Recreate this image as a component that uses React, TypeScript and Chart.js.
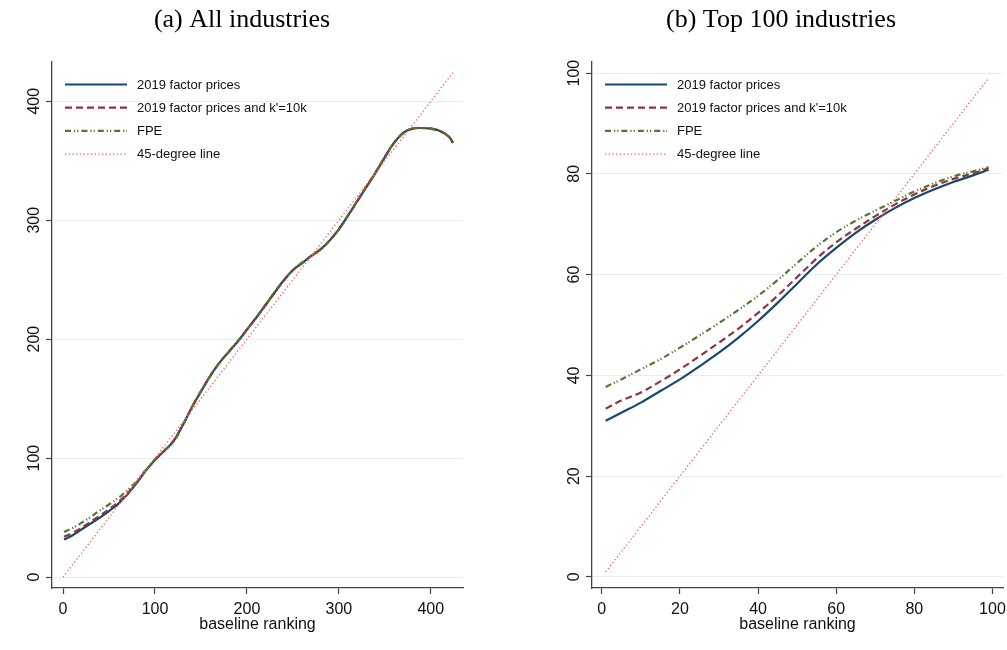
import React, { useEffect, useRef } from "react";
import { Chart, registerables } from "chart.js";
Chart.register(...registerables);

// ---------- data ----------
const seriesNames = ["2019 factor prices", "2019 factor prices and k'=10k", "FPE", "45-degree line"];
const panelTitles = ["(a) All industries", "(b) Top 100 industries"];
const xAxisTitle = "baseline ranking";

// (a) All industries
const leftRanks = [1, 10, 20, 30, 40, 50, 60, 70, 80, 90, 100, 110, 120, 130, 140, 150, 160, 170, 180, 190, 200, 210, 220, 230, 240, 250, 260, 270, 280, 290, 300, 310, 320, 330, 340, 350, 360, 370, 380, 390, 400, 410, 420, 424];
const leftFactor = [31.5, 35, 40, 45, 50, 55.5, 61.5, 69.5, 79, 89.5, 98.5, 106, 114, 127.5, 142.5, 156, 169, 180, 189, 198, 208, 218, 228.5, 239, 249.5, 258, 264, 270, 275.5, 283, 292.5, 304, 316, 328, 340, 353, 365, 373.5, 377, 377.5, 377, 375, 370, 365];
const leftK10 = [34, 37, 41.5, 46.5, 51.5, 57, 63, 70.5, 79.5, 89.5, 98.5, 106, 114.5, 127.5, 142.5, 156, 169, 180, 189.5, 198, 208, 218, 228.5, 239, 249, 258, 264, 270, 275.5, 283, 292.5, 304, 316, 328.5, 340.5, 353, 365, 373.5, 377, 377.5, 377, 375, 370, 365];
const leftFPE = [38, 41, 45.5, 50.5, 56, 61, 66.5, 73, 80.5, 90, 99, 106.5, 113.5, 127, 142.5, 156.5, 169, 180, 189, 198.5, 208, 218, 228, 239.5, 249.5, 258, 264.5, 270, 275, 283, 292, 304, 316.5, 328, 340, 353.5, 365, 373, 377, 377.5, 377, 375, 370, 365];
const leftDiag = [0, 424];
const leftXTicks = [0, 100, 200, 300, 400];
const leftYTicks = [0, 100, 200, 300, 400];

// (b) Top 100 industries
const rightRanks = [1, 5, 10, 15, 20, 25, 30, 35, 40, 45, 50, 55, 60, 65, 70, 75, 80, 85, 90, 95, 99];
const rightFactor = [31, 32.6, 34.6, 36.9, 39.2, 41.8, 44.5, 47.5, 50.8, 54.4, 58.2, 62, 65.3, 68.3, 70.9, 73.2, 75.2, 76.9, 78.4, 79.7, 80.8];
const rightK10 = [33.4, 35, 36.6, 38.8, 41.2, 43.8, 46.5, 49.3, 52.4, 55.8, 59.5, 63.2, 66.4, 69.1, 71.6, 73.9, 75.9, 77.6, 79, 80.1, 81.1];
const rightFPE = [37.7, 39.2, 41.2, 43.2, 45.5, 47.9, 50.4, 53, 55.8, 58.9, 62.3, 65.6, 68.4, 70.7, 72.7, 74.6, 76.5, 78.1, 79.5, 80.5, 81.3];
const rightDiag = [1, 99];
const rightXTicks = [0, 20, 40, 60, 80, 100];
const rightYTicks = [0, 20, 40, 60, 80, 100];

// ---------- styling ----------
const COLORS = ["#1a476f", "#90353b", "#55752f", "#ff5a5a"];
const DASHES: number[][] = [[], [7, 4], [6, 3, 1.2, 2, 1.2, 3], [1.3, 2.4]];
const WIDTHS = [2.2, 2.2, 2.2, 1.3];
const AXIS_COLOR = "#444444";
const GRID_COLOR = "#e6eef0";
const SANS = '"Liberation Sans", Arial, sans-serif';
const SERIF = '"Liberation Serif", "Times New Roman", serif';

type PanelSpec = {
  left: number;
  width: number;
  title: string;
  titleX: number;
  ranks: number[];
  factor: number[];
  k10: number[];
  fpe: number[];
  diag: number[];
  xTicks: number[];
  yTicks: number[];
  xMin: number;
  xMax: number;
  yMin: number;
  yMax: number;
  padLeft: number;
  padRight: number;
};

const HEIGHT = 650;

function buildDatasets(p: PanelSpec) {
  const series = [p.factor, p.k10, p.fpe];
  const ds: any[] = series.map((vals, i) => ({
    label: seriesNames[i],
    data: p.ranks.map((r, j) => ({ x: r, y: vals[j] })),
    borderColor: COLORS[i],
    borderWidth: WIDTHS[i],
    borderDash: DASHES[i],
    pointRadius: 0,
    tension: 0.35,
    fill: false,
    order: 3 - i,
  }));
  ds.push({
    label: seriesNames[3],
    data: p.diag.map((v) => ({ x: v, y: v })),
    borderColor: COLORS[3],
    borderWidth: WIDTHS[3],
    borderDash: DASHES[3],
    pointRadius: 0,
    tension: 0,
    fill: false,
    order: 0,
  });
  return ds;
}

function textPlugin(p: PanelSpec) {
  return {
    id: "stataText",
    afterDraw(chart: any) {
      const ctx = chart.ctx as CanvasRenderingContext2D;
      const ca = chart.chartArea;
      const xs = chart.scales.x;
      const ys = chart.scales.y;
      ctx.save();
      // title
      ctx.fillStyle = "#000";
      ctx.font = `26px ${SERIF}`;
      ctx.textAlign = "center";
      ctx.textBaseline = "alphabetic";
      ctx.fillText(p.title, p.titleX, 27);

      // y tick labels (rotated)
      ctx.fillStyle = "#111";
      ctx.font = `16px ${SANS}`;
      for (const v of p.yTicks) {
        const py = ys.getPixelForValue(v);
        ctx.save();
        ctx.translate(ca.left - 13, py);
        ctx.rotate(-Math.PI / 2);
        ctx.textAlign = "center";
        ctx.textBaseline = "alphabetic";
        ctx.fillText(String(v), 0, 0);
        ctx.restore();
      }
      // x tick labels
      ctx.textAlign = "center";
      ctx.textBaseline = "alphabetic";
      for (const v of p.xTicks) {
        ctx.fillText(String(v), xs.getPixelForValue(v), ca.bottom + 26);
      }
      // x axis title
      ctx.fillText(xAxisTitle, (ca.left + ca.right) / 2, ca.bottom + 41);

      // legend
      ctx.font = `13px ${SANS}`;
      ctx.textAlign = "left";
      ctx.textBaseline = "middle";
      const datasets = chart.data.datasets;
      for (let i = 0; i < datasets.length; i++) {
        const d = datasets[i];
        const y = ca.top + 22.5 + i * 23.2;
        ctx.save();
        ctx.strokeStyle = d.borderColor;
        ctx.lineWidth = d.borderWidth;
        ctx.setLineDash(d.borderDash || []);
        ctx.beginPath();
        ctx.moveTo(ca.left + 13, y);
        ctx.lineTo(ca.left + 75, y);
        ctx.stroke();
        ctx.restore();
        ctx.fillStyle = "#111";
        ctx.fillText(d.label, ca.left + 85, y + 0.5);
      }
      ctx.restore();
    },
  };
}

function Panel({ p }: { p: PanelSpec }) {
  const ref = useRef<HTMLCanvasElement>(null);
  useEffect(() => {
    const canvas = ref.current!;
    const chart = new Chart(canvas, {
      type: "line",
      data: { datasets: buildDatasets(p) },
      options: {
        animation: false,
        responsive: false,
        devicePixelRatio: 1,
        events: [],
        layout: {
          padding: { left: p.padLeft, right: p.padRight, top: 62, bottom: 42 },
        },
        plugins: {
          legend: { display: false },
          tooltip: { enabled: false },
          title: { display: false },
        },
        scales: {
          x: {
            type: "linear",
            min: p.xMin,
            max: p.xMax,
            afterBuildTicks: (s: any) => {
              s.ticks = p.xTicks.map((v) => ({ value: v }));
            },
            afterFit: (s: any) => {
              s.height = 20;
            },
            ticks: { display: false },
            grid: {
              display: true,
              drawOnChartArea: false,
              drawTicks: true,
              tickLength: 6,
              tickColor: AXIS_COLOR,
              tickWidth: 1.2,
            },
            border: { display: true, color: AXIS_COLOR, width: 1.3 },
          },
          y: {
            type: "linear",
            min: p.yMin,
            max: p.yMax,
            afterBuildTicks: (s: any) => {
              s.ticks = p.yTicks.map((v) => ({ value: v }));
            },
            afterFit: (s: any) => {
              s.width = 20;
            },
            ticks: { display: false },
            grid: {
              display: true,
              drawOnChartArea: true,
              color: GRID_COLOR,
              lineWidth: 1,
              drawTicks: true,
              tickLength: 6,
              tickColor: AXIS_COLOR,
              tickWidth: 1.2,
            },
            border: { display: true, color: AXIS_COLOR, width: 1.3 },
          },
        },
      } as any,
      plugins: [textPlugin(p)],
    });
    return () => chart.destroy();
  }, []);
  return (
    <canvas
      ref={ref}
      width={p.width}
      height={HEIGHT}
      style={{ position: "absolute", left: p.left, top: 0, width: p.width, height: HEIGHT }}
    />
  );
}

const leftPanel: PanelSpec = {
  left: 0,
  width: 500,
  title: panelTitles[0],
  titleX: 242,
  ranks: leftRanks,
  factor: leftFactor,
  k10: leftK10,
  fpe: leftFPE,
  diag: leftDiag,
  xTicks: leftXTicks,
  yTicks: leftYTicks,
  xMin: -12,
  xMax: 435,
  yMin: -9.2,
  yMax: 433,
  padLeft: 32,
  padRight: 37,
};

const rightPanel: PanelSpec = {
  left: 500,
  width: 507,
  title: panelTitles[1],
  titleX: 281,
  ranks: rightRanks,
  factor: rightFactor,
  k10: rightK10,
  fpe: rightFPE,
  diag: rightDiag,
  xTicks: rightXTicks,
  yTicks: rightYTicks,
  xMin: -2.5,
  xMax: 102.7,
  yMin: -2.2,
  yMax: 102.2,
  padLeft: 72,
  padRight: 4,
};

export default function App() {
  return (
    <div style={{ position: "absolute", left: 0, top: 0, width: 1007, height: HEIGHT, background: "#fff", overflow: "hidden" }}>
      <Panel p={leftPanel} />
      <Panel p={rightPanel} />
    </div>
  );
}
